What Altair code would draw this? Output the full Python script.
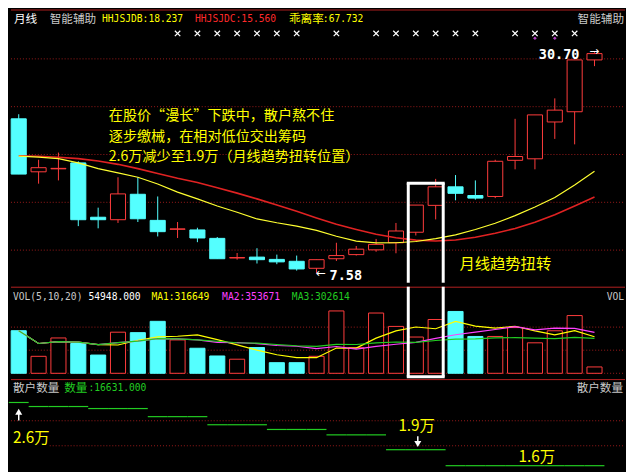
import altair as alt
import pandas as pd

# ---------------- data ----------------
bars = list(range(1, 31))
opens = [23.73, 18.19, 18.50, 19.12, 13.44, 13.18, 15.84, 13.11, 12.18, 12.11,
         11.23, 9.18, 9.27, 9.03, 8.83, 8.10, 9.10, 9.53, 10.03, 10.77,
         11.87, 14.68, 16.62, 15.71, 15.61, 19.39, 19.55, 23.40, 24.47, 29.89]
closes = [17.95, 18.62, 18.55, 13.18, 13.18, 15.88, 13.28, 11.93, 12.22, 11.27,
          9.10, 9.22, 9.00, 8.77, 8.03, 9.00, 9.43, 10.10, 10.60, 12.00,
          14.71, 16.62, 15.94, 15.44, 19.29, 19.79, 24.14, 24.64, 29.89, 30.55]
highs = [24.21, 19.45, 20.20, 19.29, 14.44, 17.62, 17.62, 15.61, 12.94, 12.34,
         11.37, 9.70, 10.20, 9.53, 9.43, 9.00, 10.77, 10.43, 11.17, 12.84,
         14.71, 17.45, 17.85, 17.29, 19.45, 23.73, 24.14, 25.87, 29.89, 30.70]
lows = [17.95, 16.95, 17.29, 12.51, 12.28, 12.84, 12.94, 11.43, 11.27, 10.83,
        9.10, 9.00, 8.60, 8.53, 7.86, 7.58, 8.87, 9.43, 9.83, 9.67,
        11.53, 13.21, 15.21, 15.28, 15.44, 18.45, 18.45, 21.63, 21.06, 29.24]
ma_b = [19.82, 19.72, 19.57, 19.12, 18.52, 18.07, 17.62, 16.92, 16.07, 15.36,
        14.61, 13.96, 13.26, 12.86, 12.51, 12.06, 11.45, 10.95, 10.75, 10.77,
        10.90, 11.20, 11.60, 12.16, 12.81, 13.61, 14.51, 15.51, 16.82, 18.24]
ma_c = [19.87, 19.82, 19.72, 19.57, 19.32, 18.97, 18.52, 18.02, 17.52, 17.07,
        16.52, 15.96, 15.36, 14.71, 14.06, 13.36, 12.71, 12.16, 11.65, 11.30,
        11.05, 10.95, 11.05, 11.35, 11.77, 12.26, 12.91, 13.71, 14.61, 15.56]
volume = [369000, 147000, 306000, 258000, 158000, 356000, 352000, 450000, 289000, 217000,
          150000, 122000, 223000, 92000, 92000, 147000, 540000, 222000, 522000, 406000,
          314000, 466000, 535500, 319000, 319000, 396000, 264000, 368300, 500000, 54948]
holders = [26000, 25400, 25400, 25400, 25100, 25100, 25100, 23900, 23900, 23900,
           22700, 22700, 22700, 22000, 22000, 22000, 21200, 21200, 21200, 19000,
           19000, 19000, 16631, 16631, 16631, 16631, 16631, 16631, 16631, 16631]
signal_bars = [9, 10, 11, 12, 13, 14, 15, 17, 19, 20, 21, 22, 23, 24, 26, 27, 28, 29]
purple_bars = [27, 28]
main_grid = [10, 15, 20, 25, 30]
vol_grid = [0, 200000, 400000]
holder_grid = [23290, 19583]
box_bars = [21, 22]
box_top_price = 17.0

note_lines = ["在股价“漫长”下跌中，散户熬不住",
              "逐步缴械，在相对低位交出筹码",
              "2.6万减少至1.9万（月线趋势扭转位置）"]

# ---------------- layout ----------------
W = 618
H_MAIN, H_VOL, H_INV = 275, 92, 92
SX = W / 634.0
def X(v): return v * SX
def YM(v): return v * H_MAIN / 285.0
def YV(v): return (v - 285) * H_VOL / 95.0
def YI(v): return (v - 380) * H_INV / 95.0

HALF = 0.38
xs = alt.Scale(domain=[1 - 8 / 20.5, 1 + 626 / 20.5], nice=False, zero=False)
ys_main = alt.Scale(domain=[6.591, 35.163], nice=False, zero=False)
ys_vol = alt.Scale(domain=[-41667, 750000], nice=False, zero=False)
ys_inv = alt.Scale(domain=[15918, 29465], nice=False, zero=False)

RED = "#FF3C3C"
CYAN = "#54FFFF"
GRID = "#9A1A1A"
SEP = "#B32020"
YEL = "#FFFF00"
GREY = "#C8C8C8"
MAG = "#FF40FF"
GRN = "#22CC22"
CJK = "Noto Sans CJK SC"
MONO = "DejaVu Sans Mono"

df = pd.DataFrame({"i": bars, "open": opens, "close": closes, "high": highs, "low": lows,
                   "mb": ma_b, "mc": ma_c, "vol": volume, "holders": holders})
df["up"] = df["close"] >= df["open"]
df["lo"] = df[["open", "close"]].min(axis=1)
df["hi"] = df[["open", "close"]].max(axis=1)
df["x1"] = df["i"] - HALF
df["x2"] = df["i"] + HALF
df["s1"] = df["i"] - 0.5
df["s2"] = df["i"] + 0.5
up_df = df[df["up"]]
dn_df = df[~df["up"]]

ONE = pd.DataFrame({"k": [0]})


def txt(s, x, y, color, size, font, align="left", weight="normal"):
    return alt.Chart(ONE).mark_text(text=s, align=align, baseline="middle", color=color,
                                    fontSize=size, font=font, fontWeight=weight).encode(
        x=alt.value(x), y=alt.value(y))


def sep_line():
    return alt.Chart(ONE).mark_rule(color=SEP, strokeWidth=1).encode(
        x=alt.value(0), x2=alt.value(W), y=alt.value(0.5))


def grid(values, scale, x0=0):
    return alt.Chart(pd.DataFrame({"g": values})).mark_rule(
        color=GRID, strokeWidth=1, strokeDash=[1, 2]).encode(
        y=alt.Y("g:Q", scale=scale, axis=None), x=alt.value(x0), x2=alt.value(W))


Xi = alt.X("i:Q", scale=xs, axis=None)

# ---------------- main panel ----------------
wick_up = alt.Chart(up_df).mark_rule(color=RED, strokeWidth=1).encode(
    x=Xi, y=alt.Y("low:Q", scale=ys_main, axis=None), y2="high:Q")
wick_dn = alt.Chart(dn_df).mark_rule(color=CYAN, strokeWidth=1).encode(
    x=Xi, y=alt.Y("low:Q", scale=ys_main, axis=None), y2="high:Q")
body_up = alt.Chart(up_df).mark_rect(fill="#000000", stroke=RED, strokeWidth=1).encode(
    x=alt.X("x1:Q", scale=xs, axis=None), x2="x2:Q",
    y=alt.Y("lo:Q", scale=ys_main, axis=None), y2="hi:Q")
body_dn = alt.Chart(dn_df).mark_rect(fill=CYAN, stroke=CYAN, strokeWidth=1).encode(
    x=alt.X("x1:Q", scale=xs, axis=None), x2="x2:Q",
    y=alt.Y("lo:Q", scale=ys_main, axis=None), y2="hi:Q")
line_c = alt.Chart(df).mark_line(color="#E02222", strokeWidth=1.6).encode(
    x=Xi, y=alt.Y("mc:Q", scale=ys_main, axis=None))
line_b = alt.Chart(df).mark_line(color="#FFFF30", strokeWidth=1.2).encode(
    x=Xi, y=alt.Y("mb:Q", scale=ys_main, axis=None))

signals = alt.Chart(pd.DataFrame({"i": signal_bars})).mark_point(
    shape="M-1,-1L1,1M-1,1L1,-1", filled=False, stroke="#FFFFFF", strokeWidth=1.2,
    size=30, opacity=1).encode(x=Xi, y=alt.value(YM(25)))
purple = alt.Chart(pd.DataFrame({"i": purple_bars})).mark_point(
    shape="diamond", filled=True, color="#B040C0", size=14, opacity=1).encode(
    x=Xi, y=alt.value(YM(30)))

box_df = pd.DataFrame({"b1": [box_bars[0] - HALF], "b2": [box_bars[1] + HALF], "top": [box_top_price]})
box_top = alt.Chart(box_df).mark_rule(color="#FFFFFF", strokeWidth=3, strokeCap="square").encode(
    x=alt.X("b1:Q", scale=xs, axis=None), x2="b2:Q", y=alt.Y("top:Q", scale=ys_main, axis=None))
box_l = alt.Chart(box_df).mark_rule(color="#FFFFFF", strokeWidth=3).encode(
    x=alt.X("b1:Q", scale=xs, axis=None), y=alt.Y("top:Q", scale=ys_main, axis=None),
    y2=alt.value(H_MAIN))
box_r = alt.Chart(box_df).mark_rule(color="#FFFFFF", strokeWidth=3).encode(
    x=alt.X("b2:Q", scale=xs, axis=None), y=alt.Y("top:Q", scale=ys_main, axis=None),
    y2=alt.value(H_MAIN))

main_layers = [
    sep_line(), grid(main_grid, ys_main),
    wick_up, wick_dn, body_up, body_dn, line_c, line_b,
    signals, purple, box_top, box_l, box_r,
    txt("月线", X(3), YM(9.5), "#FFFFFF", 11.7, CJK),
    txt("智能辅助", X(40), YM(9.5), GREY, 11.7, CJK),
    txt("HHJSJDB:18.237", X(94), YM(9.5), YEL, 9.7, MONO),
    txt("HHJSJDC:15.560", X(190), YM(9.5), "#FF2A2A", 9.7, MONO),
    txt("乖离率", X(287), YM(9.5), YEL, 11.7, CJK),
    txt(":67.732", X(322), YM(9.5), YEL, 9.7, MONO),
    txt("智能辅助", X(633), YM(9.5), GREY, 11.7, CJK, align="right"),
    txt("30.70", X(545), YM(47.5), "#FFFFFF", 13.6, MONO, weight="bold"),
    txt("→", X(597), YM(43), "#FFFFFF", 12, "DejaVu Sans"),
    txt("←", X(315), YM(275), "#FFFFFF", 12, "DejaVu Sans"),
    txt("7.58", X(329), YM(277.5), "#FFFFFF", 13.6, MONO, weight="bold"),
    txt("月线趋势扭转", X(463), YM(265), YEL, 15.4, CJK),
]
for k, line in enumerate(note_lines):
    main_layers.append(txt(line, X(101), YM(111 + 21.6 * k), YEL, 14.2, CJK))

main = alt.layer(*main_layers).properties(width=W, height=H_MAIN)

# ---------------- volume panel ----------------
vbar_up = alt.Chart(up_df).mark_rect(fill="#000000", stroke=RED, strokeWidth=1).encode(
    x=alt.X("x1:Q", scale=xs, axis=None), x2="x2:Q",
    y=alt.Y("vol:Q", scale=ys_vol, axis=None), y2=alt.Y2(datum=0))
vbar_dn = alt.Chart(dn_df).mark_rect(fill=CYAN, stroke=CYAN, strokeWidth=1).encode(
    x=alt.X("x1:Q", scale=xs, axis=None), x2="x2:Q",
    y=alt.Y("vol:Q", scale=ys_vol, axis=None), y2=alt.Y2(datum=0))


def vol_ma(n, name, color):
    return alt.Chart(df).transform_window(
        **{name: "mean(vol)"}, frame=[-(n - 1), 0], sort=[alt.SortField("i")]
    ).mark_line(color=color, strokeWidth=1.2).encode(
        x=Xi, y=alt.Y(f"{name}:Q", scale=ys_vol, axis=None))


vbox_l = alt.Chart(box_df).mark_rule(color="#FFFFFF", strokeWidth=3).encode(
    x=alt.X("b1:Q", scale=xs, axis=None), y=alt.value(0), y2=alt.value(YV(378.5)))
vbox_r = alt.Chart(box_df).mark_rule(color="#FFFFFF", strokeWidth=3).encode(
    x=alt.X("b2:Q", scale=xs, axis=None), y=alt.value(0), y2=alt.value(YV(378.5)))
vbox_b = alt.Chart(box_df).mark_rule(color="#FFFFFF", strokeWidth=3, strokeCap="square").encode(
    x=alt.X("b1:Q", scale=xs, axis=None), x2="b2:Q", y=alt.value(YV(378.5)))

vol_layers = [
    sep_line(), grid(vol_grid, ys_vol),
    vbar_up, vbar_dn,
    vol_ma(5, "ma1", YEL), vol_ma(10, "ma2", MAG), vol_ma(20, "ma3", GRN),
    vbox_l, vbox_r, vbox_b,
    txt("VOL(5,10,20)", X(2), YV(295.5), GREY, 9.7, MONO),
    txt("54948.000", X(80), YV(295.5), "#FFFFFF", 9.7, MONO),
    txt("MA1:316649", X(145), YV(295.5), YEL, 9.7, MONO),
    txt("MA2:353671", X(218), YV(295.5), MAG, 9.7, MONO),
    txt("MA3:302614", X(290), YV(295.5), GRN, 9.7, MONO),
    txt("VOL", X(633), YV(295.5), GREY, 9.7, MONO, align="right"),
]
vol = alt.layer(*vol_layers).properties(width=W, height=H_VOL)

# ---------------- retail holders panel ----------------
steps = alt.Chart(df).mark_rule(color=GRN, strokeWidth=1.2).encode(
    x=alt.X("s1:Q", scale=xs, axis=None), x2="s2:Q",
    y=alt.Y("holders:Q", scale=ys_inv, axis=None))
arr_up_head = alt.Chart(pd.DataFrame({"i": [1]})).mark_point(
    shape="triangle-up", filled=True, color="#FFFFFF", size=50, opacity=1).encode(
    x=Xi, y=alt.value(YI(414)))
arr_up_stem = alt.Chart(pd.DataFrame({"i": [1]})).mark_rule(color="#FFFFFF", strokeWidth=1.5).encode(
    x=Xi, y=alt.value(YI(416)), y2=alt.value(YI(423)))
arr_dn_stem = alt.Chart(pd.DataFrame({"i": [21.1]})).mark_rule(color="#FFFFFF", strokeWidth=1.5).encode(
    x=Xi, y=alt.value(YI(439.5)), y2=alt.value(YI(446)))
arr_dn_head = alt.Chart(pd.DataFrame({"i": [21.1]})).mark_point(
    shape="triangle-down", filled=True, color="#FFFFFF", size=50, opacity=1).encode(
    x=Xi, y=alt.value(YI(447.5)))

inv_layers = [
    sep_line(), grid(holder_grid[:1], ys_inv), grid(holder_grid[1:], ys_inv, x0=X(40)),
    steps, arr_up_head, arr_up_stem, arr_dn_stem, arr_dn_head,
    txt("散户数量", X(2), YI(389), GREY, 11.7, CJK),
    txt("数量", X(55), YI(389), GRN, 11.7, CJK),
    txt(":16631.000", X(80), YI(389), GRN, 9.7, MONO),
    txt("散户数量", X(632), YI(389), GREY, 11.7, CJK, align="right"),
    txt("2.6万", X(2), YI(441), YEL, 15.4, CJK),
    txt("1.9万", X(400), YI(428.5), YEL, 15.4, CJK),
    txt("1.6万", X(524), YI(461.5), YEL, 15.4, CJK),
]
inv = alt.layer(*inv_layers).properties(width=W, height=H_INV)

chart = alt.vconcat(main, vol, inv, spacing=0).properties(
    background="#000000", padding=0
).configure_view(strokeWidth=0)

chart.save("out.html", embed_options={"renderer": "svg", "actions": False})
